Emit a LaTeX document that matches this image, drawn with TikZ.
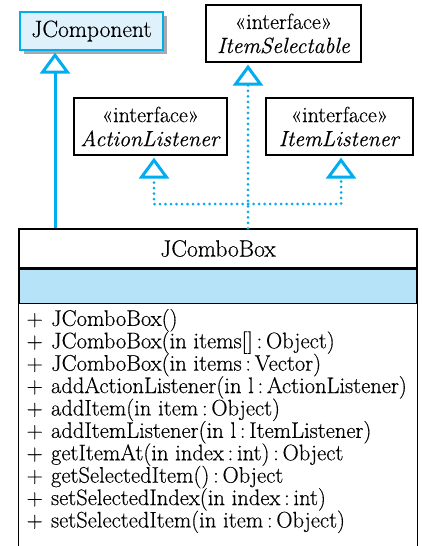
\documentclass[tikz,border=0pt]{standalone}
\usepackage{fontspec}
\setmainfont{Latin Modern Roman}[FakeBold=0.4]
\usepackage{tikz}
\usetikzlibrary{arrows.meta,positioning,shadows}
\definecolor{umlcyan}{RGB}{0,174,239}
\definecolor{umlband}{RGB}{183,227,248}
\definecolor{umlfill}{RGB}{223,242,251}
\definecolor{umlshadow}{RGB}{167,169,172}
\newcommand{\umlop}[1]{\makebox[24.5pt][l]{+}#1}
\newcommand{\opsfont}{\fontsize{22.5}{22.4}\selectfont\lineskiplimit=-20pt\relax}

\begin{document}
\begin{tikzpicture}[x=1pt,y=-1pt,font=\fontsize{22}{24}\selectfont,
    iface/.style={rectangle,draw,line width=1.2pt,align=center,minimum height=57pt,inner sep=0pt},
    classbox/.style={rectangle,draw,line width=1.2pt,minimum width=398pt,inner sep=0pt},
    bigname/.style={font=\fontsize{23.5}{24}\selectfont},
    inherit/.style={umlcyan,line width=3pt,-{Triangle[open,length=21pt,width=30pt]},shorten >=2pt},
    realize/.style={inherit,line cap=round,dash pattern=on 0pt off 5.5pt}]
  \useasboundingbox (0,0) rectangle (422,546);
  % super class and interfaces
  \node[rectangle,draw=umlcyan,fill=umlfill,line width=1.2pt,minimum width=143pt,minimum height=38pt,bigname,
        general shadow={fill=umlshadow,shadow xshift=4pt,shadow yshift=-4pt}] (jcomp) at (91.5,31) {JComponent};
  \node[iface,minimum width=155pt] (isel) at (283.5,33.5) {«interface»\\\textit{ItemSelectable}};
  \node[iface,minimum width=153pt] (alis) at (150.5,126.5) {«interface»\\\textit{ActionListener}};
  \node[iface,minimum width=147pt] (ilis) at (339.5,126.5) {«interface»\\\textit{ItemListener}};
  % the class
  \node[classbox,minimum height=39pt,bigname] (title) at (218,248.5) {JComboBox};
  \node[classbox,minimum height=34pt,fill=umlband,below=0pt of title] (attrs) {};
  \node[anchor=north west,align=left,inner xsep=8pt,inner ysep=5pt,font=\opsfont] (ops) at (attrs.south west) {%
    \umlop{JComboBox()}\\
    \umlop{JComboBox(in items[]\,:\,Object)}\\
    \umlop{JComboBox(in items\,:\,Vector)}\\
    \umlop{addActionListener(in l\,:\,ActionListener)}\\
    \umlop{addItem(in item\,:\,Object)}\\
    \umlop{addItemListener(in l\,:\,ItemListener)}\\
    \umlop{getItemAt(in index\,:\,int)\,:\,Object}\\
    \umlop{getSelectedItem()\,:\,Object}\\
    \umlop{setSelectedIndex(in index\,:\,int)}\\
    \umlop{setSelectedItem(in item\,:\,Object)}};
  \draw[line width=1.2pt] (attrs.south west) -- ++(0,260) (attrs.south east) -- ++(0,260);
  % connectors
  \coordinate (ext) at (55,0);
  \coordinate (jn) at (248,204);
  \draw[inherit] (ext |- title.north) -- (ext |- jcomp.south);
  \draw[realize] (jn |- title.north) -- (jn |- isel.south);
  \draw[realize] (jn) -| ([xshift=3.5pt]alis.south);
  \draw[realize] (jn) -| ([xshift=1.5pt]ilis.south);
\end{tikzpicture}
\end{document}
